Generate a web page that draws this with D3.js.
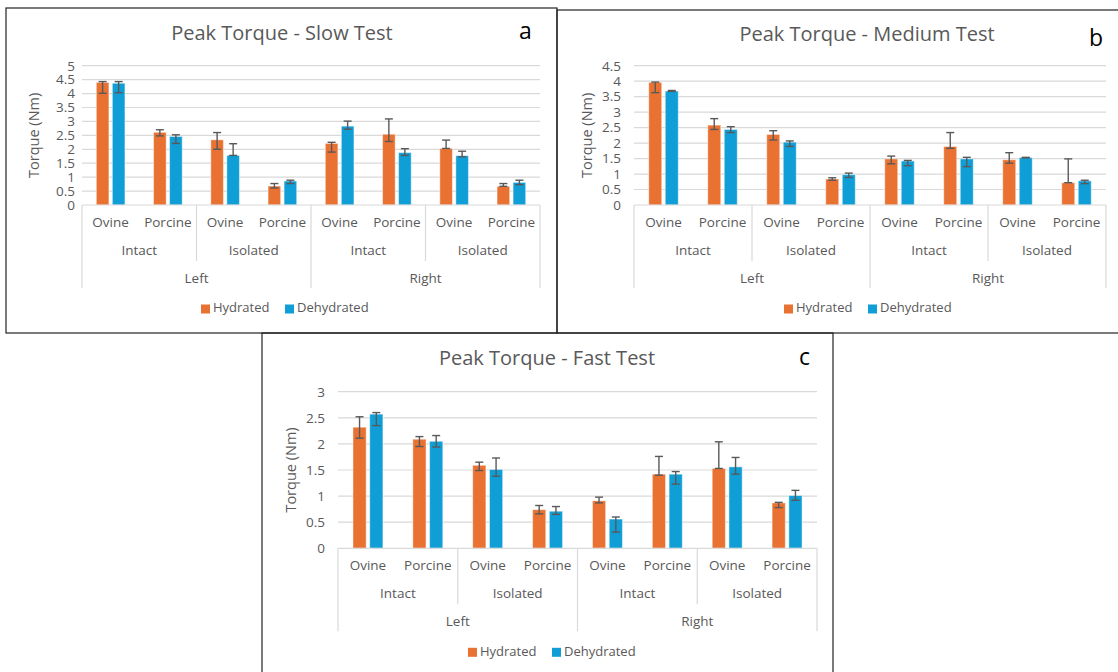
<!DOCTYPE html>
<html>
<head>
<meta charset="utf-8">
<script src="https://cdn.jsdelivr.net/npm/d3@7"></script>
<style>
  body { margin: 0; background: #fff; }
  svg { display: block; font-family: "Open Sans", "Noto Sans", sans-serif; }
</style>
</head>
<body>
<div id="svg-container"></div>
<script>
////////////////////////////////////////////////////////////////////
////////////////////////////  Data  ////////////////////////////////

const species = ["Ovine", "Porcine"];
const preps = ["Intact", "Isolated"];
const sides = ["Left", "Right"];
const seriesNames = ["Hydrated", "Dehydrated"];

// slow test
const slowHydrated = [4.40, 2.61, 2.34, 0.68, 2.21, 2.54, 2.03, 0.67];
const slowHydratedErr = [[4.01, 4.43], [2.48, 2.70], [2.00, 2.60], [0.61, 0.77], [1.90, 2.25], [2.28, 3.09], [2.03, 2.33], [0.67, 0.77]];
const slowDehydrated = [4.37, 2.46, 1.78, 0.86, 2.83, 1.88, 1.77, 0.81];
const slowDehydratedErr = [[4.03, 4.43], [2.21, 2.52], [1.78, 2.20], [0.77, 0.89], [2.72, 3.01], [1.78, 2.02], [1.73, 1.93], [0.73, 0.89]];

// medium test
const mediumHydrated = [3.96, 2.58, 2.28, 0.84, 1.49, 1.89, 1.46, 0.72];
const mediumHydratedErr = [[3.63, 3.97], [2.44, 2.79], [2.10, 2.40], [0.80, 0.88], [1.33, 1.58], [1.83, 2.34], [1.35, 1.69], [0.72, 1.49]];
const mediumDehydrated = [3.68, 2.44, 2.03, 0.98, 1.42, 1.49, 1.53, 0.78];
const mediumDehydratedErr = [[3.67, 3.70], [2.34, 2.53], [1.89, 2.07], [0.89, 1.03], [1.27, 1.44], [1.24, 1.54], [1.52, 1.54], [0.69, 0.80]];

// fast test
const fastHydrated = [2.32, 2.09, 1.59, 0.74, 0.91, 1.42, 1.53, 0.87];
const fastHydratedErr = [[2.11, 2.52], [1.95, 2.14], [1.49, 1.65], [0.66, 0.82], [0.87, 0.98], [1.40, 1.76], [1.53, 2.04], [0.78, 0.88]];
const fastDehydrated = [2.57, 2.05, 1.51, 0.71, 0.56, 1.42, 1.56, 1.01];
const fastDehydratedErr = [[2.35, 2.60], [1.94, 2.16], [1.38, 1.73], [0.65, 0.80], [0.31, 0.60], [1.23, 1.47], [1.42, 1.74], [0.92, 1.11]];

const slowTicks = [0, 0.5, 1, 1.5, 2, 2.5, 3, 3.5, 4, 4.5, 5];
const mediumTicks = [0, 0.5, 1, 1.5, 2, 2.5, 3, 3.5, 4, 4.5];
const fastTicks = [0, 0.5, 1, 1.5, 2, 2.5, 3];

////////////////////////////////////////////////////////////////////
////////////////////////////  Init  ////////////////////////////////

const width = 1118, height = 672;
const svg = d3.select("#svg-container").append("svg")
  .attr("width", width).attr("height", height);

const textColor = "#595959";
const gridColor = "#d9d9d9";
const colorScale = d3.scaleOrdinal().domain(seriesNames).range(["#e97132", "#0f9ed5"]);

// 8 leaf categories: side > prep > species
const groups = [];
sides.forEach((s) => preps.forEach((p) => species.forEach((sp) => groups.push(`${s}|${p}|${sp}`))));

function drawPanel(cfg) {
  const g = svg.append("g");

  // panel frame
  g.append("rect")
    .attr("x", cfg.frame[0]).attr("y", cfg.frame[1])
    .attr("width", cfg.frame[2]).attr("height", cfg.frame[3])
    .attr("fill", "none").attr("stroke", "#222").attr("stroke-width", 1.2);

  const yScale = d3.scaleLinear().domain([0, d3.max(cfg.ticks)]).range([cfg.y0, cfg.yTop]);
  const x0 = d3.scaleBand().domain(groups).range([cfg.left, cfg.right]).padding(0);
  const gw = x0.bandwidth();
  const x1 = d3.scaleBand().domain(seriesNames)
    .range([gw * 0.25, gw * 0.75]).paddingInner(0.214).paddingOuter(0);

  // gridlines
  g.append("g").selectAll("line").data(cfg.ticks.slice(1)).join("line")
    .attr("x1", cfg.left).attr("x2", cfg.right)
    .attr("y1", (d) => yScale(d)).attr("y2", (d) => yScale(d))
    .attr("stroke", gridColor).attr("stroke-width", 1.2);

  // y axis labels
  const yAxis = d3.axisLeft(yScale).tickValues(cfg.ticks).tickSize(0).tickPadding(0)
    .tickFormat(d3.format("~g"));
  const ya = g.append("g").attr("transform", `translate(${cfg.tickEnd},0)`).call(yAxis);
  ya.select(".domain").remove();
  ya.selectAll("text").attr("fill", textColor).style("font-size", "13.5px")
    .style("font-family", '"Open Sans", sans-serif');

  g.append("text")
    .attr("transform", `translate(${cfg.axisLabelX},${(cfg.y0 + cfg.yTop) / 2}) rotate(-90)`)
    .attr("text-anchor", "middle").attr("dominant-baseline", "middle")
    .attr("fill", textColor).style("font-size", "14.5px").text("Torque (Nm)");

  // bars
  const rows = [];
  groups.forEach((k, i) => {
    rows.push({ key: k, s: "Hydrated", v: cfg.hyd[i], err: cfg.hydErr[i] });
    rows.push({ key: k, s: "Dehydrated", v: cfg.dehyd[i], err: cfg.dehydErr[i] });
  });

  g.append("g").selectAll("rect").data(rows).join("rect")
    .attr("x", (d) => x0(d.key) + x1(d.s))
    .attr("width", x1.bandwidth())
    .attr("y", (d) => yScale(d.v))
    .attr("height", (d) => cfg.y0 - yScale(d.v))
    .attr("fill", (d) => colorScale(d.s))
    .attr("stroke", "#fff").attr("stroke-opacity", 0.45).attr("stroke-width", 1);

  // error bars
  const eb = g.append("g").attr("stroke", textColor).attr("stroke-width", 1.4);
  rows.forEach((d) => {
    const cx = x0(d.key) + x1(d.s) + x1.bandwidth() / 2;
    eb.append("line").attr("x1", cx).attr("x2", cx)
      .attr("y1", yScale(d.err[0])).attr("y2", yScale(d.err[1]));
    d.err.forEach((e) => {
      eb.append("line").attr("x1", cx - 4).attr("x2", cx + 4)
        .attr("y1", yScale(e)).attr("y2", yScale(e));
    });
  });

  // multi-level category axis
  const ax = g.append("g").attr("stroke", gridColor).attr("stroke-width", 1.2);
  ax.append("line").attr("x1", cfg.left).attr("x2", cfg.right)
    .attr("y1", cfg.y0).attr("y2", cfg.y0);
  [0, 4, 8].forEach((i) => {
    const x = i === 8 ? cfg.right : x0(groups[i]);
    ax.append("line").attr("x1", x).attr("x2", x).attr("y1", cfg.y0).attr("y2", cfg.y0 + 83);
  });
  [2, 6].forEach((i) => {
    const x = x0(groups[i]);
    ax.append("line").attr("x1", x).attr("x2", x).attr("y1", cfg.y0).attr("y2", cfg.y0 + 56);
  });

  const lab = g.append("g").attr("fill", textColor).attr("text-anchor", "middle")
    .attr("dominant-baseline", "middle").style("font-size", "13.5px");
  groups.forEach((k) => {
    lab.append("text").attr("x", x0(k) + gw / 2).attr("y", cfg.y0 + 18).text(k.split("|")[2]);
  });
  for (let i = 0; i < 8; i += 2) {
    lab.append("text").attr("x", x0(groups[i]) + gw).attr("y", cfg.y0 + 46.5).text(groups[i].split("|")[1]);
  }
  for (let i = 0; i < 8; i += 4) {
    lab.append("text").attr("x", x0(groups[i]) + gw * 2).attr("y", cfg.y0 + 74).text(groups[i].split("|")[0]);
  }

  // title + panel letter
  g.append("text").attr("x", cfg.titleX).attr("y", cfg.titleY)
    .attr("text-anchor", "middle").attr("fill", textColor).style("font-size", "20px")
    .text(cfg.title);
  g.append("text").attr("x", cfg.letter[1]).attr("y", cfg.letter[2])
    .attr("fill", "#000").style("font-size", "23px").text(cfg.letter[0]);

  // legend
  const lg = g.append("g").attr("transform", `translate(${cfg.legendX},${cfg.y0 + 104})`);
  const items = [{ s: "Hydrated", x: -83 }, { s: "Dehydrated", x: 1 }];
  items.forEach((it) => {
    lg.append("rect").attr("x", it.x).attr("y", -4.5).attr("width", 9).attr("height", 9)
      .attr("fill", colorScale(it.s));
    lg.append("text").attr("x", it.x + 12).attr("y", 0).attr("dominant-baseline", "middle")
      .attr("fill", textColor).style("font-size", "13px").text(it.s);
  });
}

drawPanel({
  frame: [6, 8, 551, 325], title: "Peak Torque - Slow Test", titleX: 282, titleY: 40,
  letter: ["a", 519, 39], left: 82, right: 540, y0: 205, yTop: 65.7, ticks: slowTicks,
  tickEnd: 75, axisLabelX: 35, legendX: 284,
  hyd: slowHydrated, hydErr: slowHydratedErr, dehyd: slowDehydrated, dehydErr: slowDehydratedErr
});

drawPanel({
  frame: [557, 10, 570, 323], title: "Peak Torque - Medium Test", titleX: 867, titleY: 41,
  letter: ["b", 1089, 46], left: 634, right: 1106, y0: 205, yTop: 65.7, ticks: mediumTicks,
  tickEnd: 621, axisLabelX: 588, legendX: 867,
  hyd: mediumHydrated, hydErr: mediumHydratedErr, dehyd: mediumDehydrated, dehydErr: mediumDehydratedErr
});

drawPanel({
  frame: [262, 333, 571, 350], title: "Peak Torque - Fast Test", titleX: 547, titleY: 365,
  letter: ["c", 799, 365], left: 338, right: 817, y0: 548.3, yTop: 391.7, ticks: fastTicks,
  tickEnd: 325, axisLabelX: 292, legendX: 551,
  hyd: fastHydrated, hydErr: fastHydratedErr, dehyd: fastDehydrated, dehydErr: fastDehydratedErr
});
</script>
</body>
</html>
